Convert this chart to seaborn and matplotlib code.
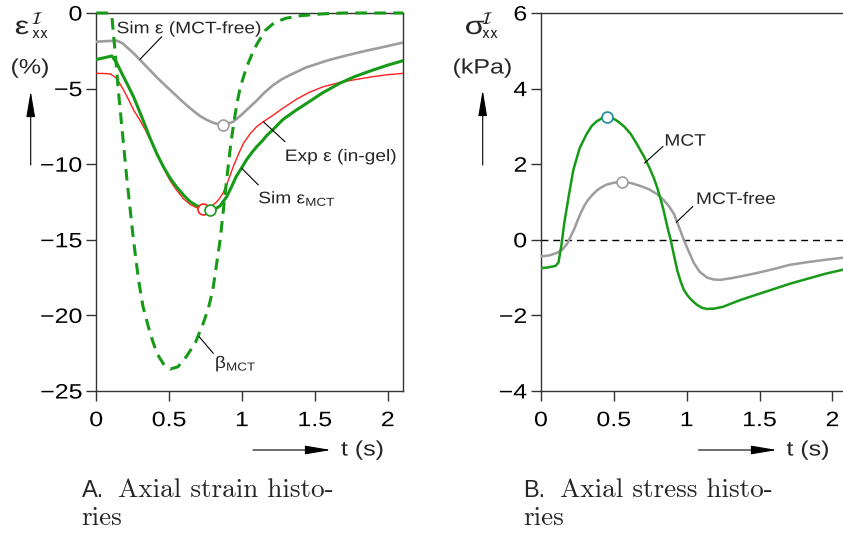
import matplotlib
matplotlib.use("Agg")
import matplotlib.pyplot as plt
import numpy as np
import pandas as pd
import seaborn as sns
from matplotlib.patheffects import AbstractPathEffect
from matplotlib.transforms import Affine2D

# ---------------- data ----------------
# Panel A: axial strain (%)
t_free = [0, 0.07, 0.14, 0.18, 0.22, 0.26, 0.30, 0.36, 0.42, 0.48, 0.53, 0.58,
          0.62, 0.67, 0.71, 0.76, 0.80, 0.835, 0.867, 0.9, 0.94, 0.97, 1.0,
          1.05, 1.1, 1.15, 1.21, 1.27, 1.33, 1.44, 1.52, 1.6, 1.72, 1.85, 1.97,
          2.107]
eps_free = [-1.9, -1.86, -1.83, -2.0, -2.35, -2.7, -3.1, -3.7, -4.3, -4.85,
            -5.3, -5.75, -6.1, -6.5, -6.8, -7.08, -7.25, -7.35, -7.4, -7.33,
            -7.19, -6.95, -6.7, -6.25, -5.8, -5.3, -4.8, -4.4, -4.1, -3.6,
            -3.35, -3.1, -2.8, -2.5, -2.25, -1.95]

t_mct = [0, 0.05, 0.107, 0.14, 0.175, 0.215, 0.255, 0.29, 0.325, 0.37, 0.415,
         0.46, 0.505, 0.55, 0.6, 0.644, 0.69, 0.74, 0.781, 0.81, 0.85, 0.895,
         0.93, 0.96, 1.0, 1.03, 1.07, 1.1, 1.14, 1.17, 1.21, 1.28, 1.375, 1.44,
         1.55, 1.67, 1.78, 1.9, 2.0, 2.107]
eps_mct = [-3.07, -2.97, -2.84, -3.3, -3.99, -4.75, -5.53, -6.35, -7.19, -8.3,
           -9.3, -10.16, -10.9, -11.49, -12.05, -12.48, -12.75, -12.93, -13.03,
           -13.0, -12.75, -12.15, -11.45, -10.82, -10.2, -9.72, -9.2, -8.85,
           -8.45, -8.1, -7.74, -7.05, -6.4, -6.0, -5.3, -4.65, -4.18, -3.77,
           -3.45, -3.15]

t_exp = [0, 0.05, 0.096, 0.14, 0.187, 0.22, 0.255, 0.30, 0.335, 0.37, 0.405,
         0.438, 0.475, 0.507, 0.55, 0.6, 0.65, 0.69, 0.735, 0.78, 0.826, 0.85,
         0.87, 0.905, 0.94, 0.975, 1.01, 1.055, 1.1, 1.146, 1.2, 1.28, 1.375,
         1.46, 1.56, 1.67, 1.78, 1.9, 2.0, 2.107]
eps_exp = [-3.99, -4.0, -4.03, -4.32, -5.09, -5.7, -6.4, -7.1, -7.7, -8.4,
           -9.05, -9.72, -10.5, -11.1, -11.7, -12.3, -12.7, -12.88, -12.98,
           -12.85, -12.5, -12.2, -11.9, -11.1, -10.16, -9.35, -8.62, -8.0,
           -7.52, -7.19, -6.85, -6.3, -5.7, -5.25, -4.87, -4.6, -4.4, -4.21,
           -4.08, -3.99]

t_beta = [0, 0.09, 0.107, 0.13, 0.153, 0.175, 0.21, 0.255, 0.29, 0.32, 0.37,
          0.415, 0.46, 0.507, 0.56, 0.62, 0.68, 0.735, 0.77, 0.80, 0.85, 0.895,
          0.92, 0.94, 0.965, 0.986, 1.03, 1.07, 1.1, 1.16, 1.22, 1.3, 1.4,
          1.55, 1.7, 2.107]
beta_mct = [0, 0, -0.24, -2.65, -5.3, -7.5, -11.0, -15.0, -17.66, -19.4, -21.2,
            -22.5, -23.2, -23.55, -23.4, -22.7, -21.8, -20.5, -19.5, -18.3,
            -15.0, -11.0, -8.9, -7.5, -6.0, -5.0, -3.6, -2.7, -2.1, -1.15,
            -0.65, -0.35, -0.18, -0.06, 0, 0]

# peak markers panel A
peak_free = (0.867, -7.4)
peak_exp = (0.735, -12.98)
peak_mct = (0.781, -13.03)

# Panel B: axial stress (kPa)
t_s_mct = [0, 0.05, 0.1, 0.12, 0.14, 0.16, 0.19, 0.222, 0.265, 0.313, 0.35,
           0.381, 0.415, 0.45, 0.49, 0.525, 0.57, 0.616, 0.66, 0.707, 0.745,
           0.776, 0.80, 0.822, 0.84, 0.856, 0.873, 0.89, 0.913, 0.936, 0.96,
           0.98, 1.005, 1.03, 1.07, 1.105, 1.14, 1.19, 1.25, 1.31, 1.37, 1.48,
           1.6, 1.71, 1.83, 1.95, 2.107]
sig_mct = [-0.75, -0.73, -0.69, -0.6, -0.15, 0.45, 1.15, 1.85, 2.42, 2.8, 3.02,
           3.13, 3.21, 3.25, 3.22, 3.14, 3.0, 2.8, 2.52, 2.2, 1.9, 1.62, 1.35,
           1.06, 0.8, 0.53, 0.25, 0.0, -0.42, -0.82, -1.12, -1.32, -1.47,
           -1.58, -1.72, -1.8, -1.83, -1.82, -1.77, -1.68, -1.59, -1.45, -1.3,
           -1.16, -1.03, -0.9, -0.76]

t_s_free = [0, 0.06, 0.114, 0.15, 0.18, 0.205, 0.23, 0.25, 0.274, 0.30, 0.32,
            0.355, 0.388, 0.42, 0.45, 0.5, 0.555, 0.62, 0.685, 0.745, 0.8,
            0.84, 0.88, 0.913, 0.945, 0.98, 1.015, 1.05, 1.09, 1.14, 1.185,
            1.23, 1.3, 1.38, 1.48, 1.6, 1.71, 1.85, 1.97, 2.107]
sig_free = [-0.44, -0.41, -0.34, -0.25, -0.1, 0.1, 0.3, 0.5, 0.72, 0.92, 1.04,
            1.2, 1.32, 1.4, 1.46, 1.51, 1.53, 1.5, 1.42, 1.33, 1.2, 1.06, 0.88,
            0.68, 0.36, 0.0, -0.32, -0.62, -0.85, -1.0, -1.05, -1.06, -1.02,
            -0.96, -0.88, -0.77, -0.66, -0.58, -0.52, -0.46]

peak_s_mct = (0.452, 3.25)
peak_s_free = (0.555, 1.53)

x_ticks = [0, 0.5, 1, 1.5, 2]
x_tick_labels = ["0", "0.5", "1", "1.5", "2"]
yA_ticks = [0, -5, -10, -15, -20, -25]
yB_ticks = [-4, -2, 0, 2, 4, 6]

GREEN = "#179a17"
GRAY = "#9d9d9d"
RED = "#ff1f1f"
TEAL = "#1f8b99"

# ---------------- style ----------------
sns.set_theme(style="ticks")
plt.rcParams["font.family"] = ["Liberation Sans", "STIXGeneral", "DejaVu Sans"]
plt.rcParams["mathtext.fontset"] = "custom"
plt.rcParams["mathtext.rm"] = "Liberation Sans"
plt.rcParams["mathtext.it"] = "Liberation Sans:italic"
plt.rcParams["mathtext.bf"] = "Liberation Sans:bold"
plt.rcParams["axes.unicode_minus"] = True


class Stretch(AbstractPathEffect):
    """Horizontally widen glyphs (reference uses a wide sans face)."""

    def __init__(self, sx=1.2, anchor="left"):
        super().__init__()
        self.sx = sx
        self.anchor = anchor

    def draw_path(self, renderer, gc, tpath, affine, rgbFace=None):
        ext = tpath.get_extents()
        if self.anchor == "center":
            a = (ext.x0 + ext.x1) / 2
        elif self.anchor == "right":
            a = ext.x1
        else:
            a = ext.x0
        tr = Affine2D().translate(-a, 0).scale(self.sx, 1).translate(a, 0) + affine
        renderer.draw_path(gc, tpath, tr, rgbFace)


W, H = 843, 535
fig = plt.figure(figsize=(W / 100, H / 100), dpi=100)


def fx(x):
    return x / W


def fy(y):
    return 1 - y / H


axA = fig.add_axes([fx(96.3), fy(391), (403.3 - 96.3) / W, (391 - 13) / H])
axB = fig.add_axes([fx(541), fy(391), (403.3 - 96.3) / W, (391 - 13) / H])


def curve(ax, t, v, color, lw, z, **kw):
    df = pd.DataFrame({"t": t, "v": v})
    sns.lineplot(data=df, x="t", y="v", ax=ax, color=color, lw=lw,
                 estimator=None, sort=False, errorbar=None, zorder=z, **kw)
    line = ax.lines[-1]
    line.set_solid_joinstyle("round")
    line.set_solid_capstyle("round")
    return line


def peak(ax, p, edge, z=10):
    df = pd.DataFrame({"t": [p[0]], "v": [p[1]]})
    sns.scatterplot(data=df, x="t", y="v", ax=ax, s=62, facecolor="white",
                    edgecolor=edge, linewidth=1.2, zorder=z, clip_on=False)


# ---- Panel A ----
curve(axA, t_free, eps_free, GRAY, 1.9, 3)
curve(axA, t_exp, eps_exp, RED, 1.0, 4)
curve(axA, t_mct, eps_mct, GREEN, 2.2, 5)
ln = curve(axA, t_beta, beta_mct, GREEN, 2.2, 6)
ln.set_dashes([3.8, 2.4])
ln.set_clip_on(False)
peak(axA, peak_free, GRAY)
peak(axA, peak_exp, RED)
peak(axA, peak_mct, GREEN, z=11)

axA.set_xlim(0, 2.107)
axA.set_ylim(-25, 0)
axA.set_yticks(yA_ticks)

# ---- Panel B ----
axB.axhline(0, color="black", lw=1.0, dashes=(5, 3.5), zorder=2)
curve(axB, t_s_free, sig_free, GRAY, 1.8, 3)
curve(axB, t_s_mct, sig_mct, GREEN, 1.8, 4)
peak(axB, peak_s_mct, TEAL)
peak(axB, peak_s_free, GRAY)
axB.set_xlim(0, 2.107)
axB.set_ylim(-4, 6)
axB.set_yticks(yB_ticks)

for ax in (axA, axB):
    ax.set_xticks(x_ticks)
    ax.set_xticklabels(x_tick_labels)
    ax.set_xlabel("")
    ax.set_ylabel("")
    for s in ax.spines.values():
        s.set_color("#333333")
        s.set_linewidth(1.0)
    ax.tick_params(axis="both", direction="out", length=7, width=1.0,
                   color="#333333", labelsize=15, labelcolor="black")
    ax.tick_params(axis="x", pad=7.5)
    ax.tick_params(axis="y", pad=3)
    for lbl in ax.get_xticklabels():
        lbl.set_path_effects([Stretch(1.2, "center")])
    for lbl in ax.get_yticklabels():
        lbl.set_path_effects([Stretch(1.2, "right")])

# ---- annotations ----
ANN = dict(fontsize=12, ha="left", va="baseline",
           path_effects=[Stretch(1.15, "left")])
LEAD = dict(arrowstyle="-", lw=0.8, color="black", shrinkA=0, shrinkB=0)


def label(ax, text, tpos, a, b):
    ax.annotate("", xy=a, xytext=b, arrowprops=LEAD, zorder=8)
    ax.text(tpos[0], tpos[1], text, zorder=9, **ANN)


label(axA, "Sim ε (MCT-free)", (0.140, -1.34), (0.30, -3.06), (0.449, -1.57))
label(axA, "Exp ε (in-gel)", (1.295, -9.79), (1.146, -7.19), (1.295, -8.51))
label(axA, r"Sim ε$_{\mathrm{MCT}}$", (1.112, -12.59), (0.998, -10.27), (1.112, -11.37))
label(axA, r"β$_{\mathrm{MCT}}$", (0.815, -23.48), (0.706, -21.41), (0.803, -22.51))
label(axB, "MCT", (0.848, 2.49), (0.711, 2.03), (0.837, 2.47))
label(axB, "MCT-free", (1.065, 0.95), (0.928, 0.46), (1.042, 0.88))

# ---- axis labels (figure pixel positions) ----
ARROWSTYLE = "-|>,head_length=1.6,head_width=0.27"


def arrow(x0, y0, x1, y1):
    fig.add_artist(matplotlib.patches.FancyArrowPatch(
        (fx(x0), fy(y0)), (fx(x1), fy(y1)), transform=fig.transFigure,
        arrowstyle=ARROWSTYLE, lw=0.8, color="black",
        mutation_scale=10, shrinkA=0, shrinkB=0))


def sym_label(x, sym, sub):
    fig.text(fx(x), fy(34), sym, fontsize=18, ha="left", va="baseline",
             path_effects=[Stretch(1.3, "left")])
    # calligraphic superscript stacked over the "xx" subscript (one mathtext)
    fig.text(fx(x + 16), fy(34), r"$^{\mathcal{I}}_{\mathrm{%s}}$" % sub,
             fontsize=17, ha="left", va="baseline",
             math_fontfamily="stixsans")


sym_label(15, "ε", "xx")
fig.text(fx(30), fy(68), "(%)", fontsize=15, ha="center", va="center",
         path_effects=[Stretch(1.2, "center")])
arrow(30.7, 165, 30.7, 91)

sym_label(465, "σ", "xx")
fig.text(fx(482.5), fy(68), "(kPa)", fontsize=15, ha="center", va="center",
         path_effects=[Stretch(1.2, "center")])
arrow(482.7, 165, 482.7, 90)

for x0, x1, xt in [(253, 331, 341), (698.5, 777, 786.5)]:
    arrow(x0, 450, x1, 450)
    fig.text(fx(xt), fy(450), "t (s)", fontsize=15, ha="left", va="center",
             path_effects=[Stretch(1.2, "left")])

# ---- captions ----
for x, letter, words in [(81.7, "A.", "Axial strain histo-"),
                         (523.5, "B.", "Axial stress histo-")]:
    fig.text(fx(x), fy(497), letter, fontsize=17, ha="left", va="baseline")
    fig.text(fx(x + 36.6), fy(497), words, fontsize=19.6, ha="left",
             va="baseline", family="cmr10")
    fig.text(fx(x), fy(525), "ries", fontsize=19.6, ha="left", va="baseline",
             family="cmr10")

fig.savefig("out.png", dpi=100)
